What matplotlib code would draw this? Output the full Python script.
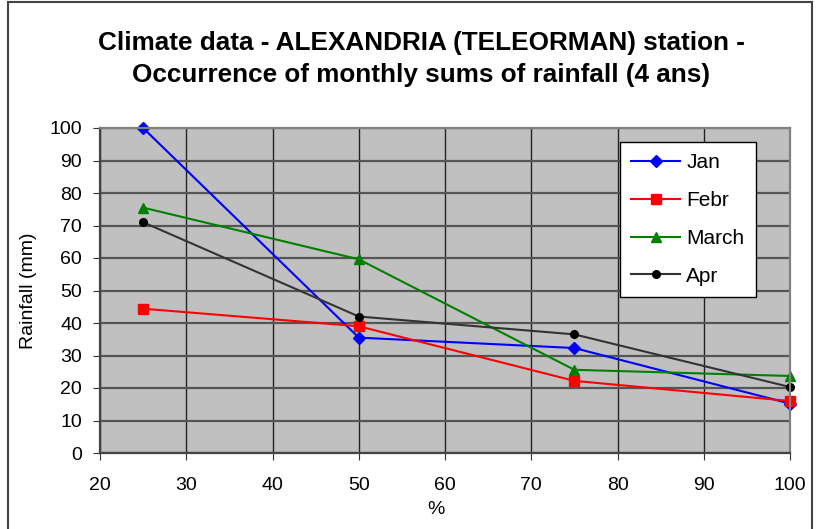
import matplotlib
matplotlib.use("Agg")
import matplotlib.pyplot as plt
from matplotlib.patches import Rectangle

plt.rcParams['font.family'] = ['Liberation Sans', 'DejaVu Sans']

# probabilita di occorrenza (%)
pct = [25, 50, 75, 100]

# somme mensili di precipitazione (mm)
jan = [100, 35.5, 32.3, 15.2]
febr = [44.4, 39.0, 22.2, 16.0]
march = [75.5, 59.6, 25.6, 23.7]
apr = [71.0, 42.0, 36.5, 20.3]

fig = plt.figure(figsize=(8.16, 5.29), dpi=100)
ax = fig.add_axes([100 / 816, 1 - 453 / 529, 690 / 816, 325 / 529])
ax.set_facecolor('#C0C0C0')

ax.plot(pct, jan, color='blue', lw=1.5, marker='D', ms=6, label='Jan', clip_on=False)
ax.plot(pct, febr, color='red', lw=1.5, marker='s', ms=6.5, label='Febr', clip_on=False)
ax.plot(pct, march, color='green', lw=1.5, marker='^', ms=7.5, label='March', clip_on=False)
ax.plot(pct, apr, color='#333333', lw=1.5, marker='o', ms=5.5,
        markerfacecolor='black', markeredgecolor='black', label='Apr', clip_on=False)

ax.set_xlim(20, 100)
ax.set_ylim(0, 100)
ax.set_xticks(range(20, 101, 10))
ax.set_yticks(range(0, 101, 10))
ax.tick_params(labelsize=14, direction='out', length=5, color='#333333')
ax.tick_params(axis='x', pad=12)
ax.tick_params(axis='y', pad=8)

# griglia
ax.yaxis.grid(True, color='#555555', lw=1.6)
ax.xaxis.grid(True, color='#222222', lw=1.0)
ax.set_axisbelow(True)
for s in ['left', 'bottom']:
    ax.spines[s].set_color('#444444')
    ax.spines[s].set_linewidth(1.6)
for s in ['top', 'right']:
    ax.spines[s].set_color('#808080')
    ax.spines[s].set_linewidth(1.6)

ax.set_xlabel('%', fontsize=14)
ax.set_ylabel('Rainfall (mm)', fontsize=14)
ax.xaxis.set_label_coords((436 - 100) / 690, -(501 - 453) / 325)
ax.yaxis.set_label_coords(-(100 - 37) / 690, 0.5)

leg = ax.legend(loc='upper right', bbox_to_anchor=((756 - 100) / 690, 1 - 14 / 325),
                fontsize=15, fancybox=False, framealpha=1, edgecolor='black',
                labelspacing=0.9, handlelength=2.35, borderpad=0.55,
                handletextpad=0.3, borderaxespad=0)
leg.get_frame().set_linewidth(1.0)

fig.text(421 / 816, 1 - 59 / 529,
         'Climate data - ALEXANDRIA (TELEORMAN) station -\n'
         'Occurrence of monthly sums of rainfall (4 ans)',
         ha='center', va='center', fontsize=18.8, fontweight='bold',
         linespacing=1.4)

# bordo del grafico
fig.patches.append(Rectangle((8 / 816, -0.02), 804 / 816, 1.02 - 2 / 529,
                             transform=fig.transFigure, fill=False,
                             edgecolor='#444444', lw=1.5))

fig.savefig('out.png', dpi=100)
